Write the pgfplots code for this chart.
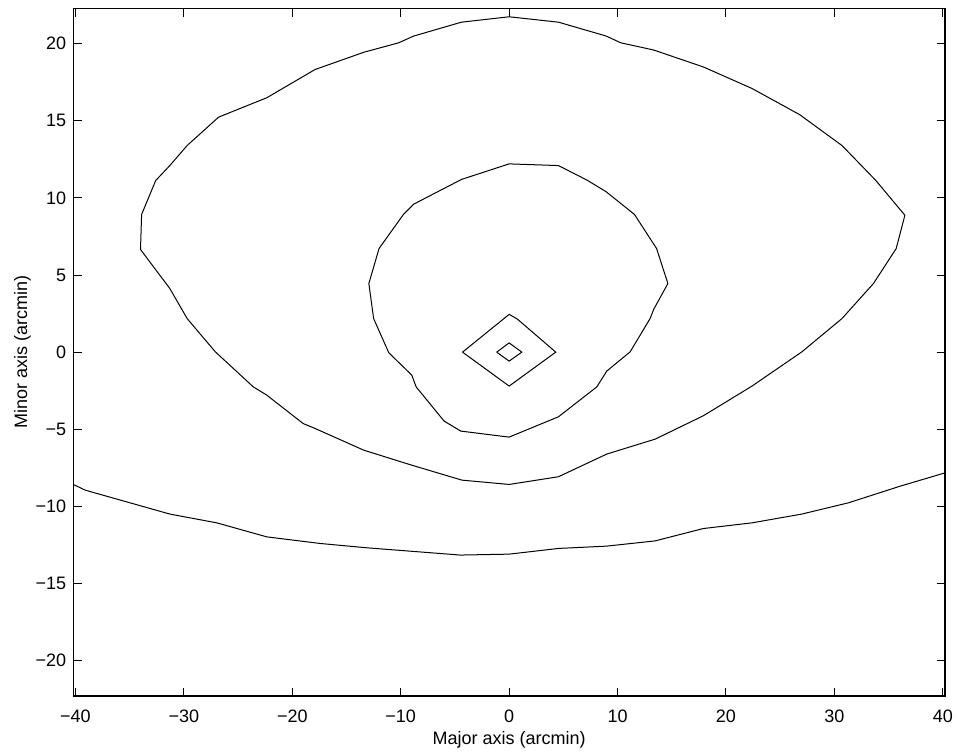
\documentclass[border=0pt]{standalone}
\usepackage{fontspec}
\setmainfont{Liberation Sans}
\usepackage{pgfplots}
\pgfplotsset{compat=1.18}

\begin{document}
\begin{tikzpicture}[contour/.style={black, line width=0.5pt, mark=none}]
\begin{axis}[
  at={(0,0)}, anchor=south west,
  width=435.85pt, height=343.85pt,
  scale only axis,
  xmin=-40.2, xmax=40.2,
  ymin=-22.3, ymax=22.3,
  xtick={-40,-30,-20,-10,0,10,20,30,40},
  xticklabels={−40,−30,−20,−10,0,10,20,30,40},
  ytick={-20,-15,-10,-5,0,5,10,15,20},
  yticklabels={−20,−15,−10,−5,0,5,10,15,20},
  tick align=inside,
  major tick length=4.2pt,
  axis line style={line width=0.6pt},
  every tick/.style={black, line width=0.5pt},
  tick label style={font=\fontsize{9}{10.5}\selectfont},
  xticklabel style={yshift=-3.3pt},
  label style={font=\fontsize{9}{10.5}\selectfont},
  xlabel={Major axis (arcmin)},
  ylabel={Minor axis (arcmin)},
  xlabel style={yshift=2.2pt},
  ylabel style={yshift=-4.5pt},
  clip=true,
]
% outermost closed contour
\addplot[contour] coordinates {
(0,21.75) (4.55,21.4) (8.95,20.5) (10.3,20.06) (13.3,19.6) (17.9,18.5)
(22.4,17.1) (26.8,15.4) (30.7,13.4) (33.8,11.15) (36.5,8.88) (35.7,6.72)
(33.6,4.45) (30.7,2.18) (27.0,0.02) (22.4,-2.2) (17.9,-4.13) (13.47,-5.64)
(9.0,-6.61) (4.55,-8.08) (0,-8.58) (-4.36,-8.30) (-8.98,-7.33) (-13.4,-6.36)
(-17.9,-4.95) (-19.0,-4.63) (-22.35,-2.79) (-23.6,-2.25) (-27.1,0.02)
(-29.7,2.18) (-31.3,4.13) (-34.0,6.66) (-33.9,8.93) (-32.6,11.13)
(-31.3,12.1) (-29.7,13.4) (-26.8,15.24) (-22.35,16.5) (-17.9,18.33)
(-13.4,19.45) (-10.2,20.06) (-8.8,20.5) (-4.4,21.4) (0,21.75)
};
% middle closed contour
\addplot[contour] coordinates {
(0,12.21) (4.55,12.1) (7.2,11.15) (8.95,10.4) (11.56,8.93) (13.6,6.72)
(14.64,4.45) (13.35,2.8) (13.0,2.18) (11.16,0.02) (9.0,-1.23) (8.09,-2.25)
(4.55,-4.19) (0,-5.51) (-4.46,-5.12) (-6.0,-4.47) (-8.58,-2.25)
(-8.98,-1.49) (-11.1,-0.04) (-12.5,2.18) (-12.94,4.45) (-12.0,6.72)
(-9.75,8.93) (-8.8,9.6) (-4.4,11.2) (0,12.21)
};
% inner diamonds
\addplot[contour] coordinates {
(-4.3,0) (0,2.45) (0.75,2.15) (4.3,0) (0,-2.2) (-4.3,0)
};
\addplot[contour] coordinates {
(-1.15,0) (0,0.6) (1.17,0) (0,-0.58) (-1.15,0)
};
% open lower contour
\addplot[contour] coordinates {
(-40.2,-8.58) (-39.1,-8.95) (-31.3,-10.5) (-26.97,-11.07) (-22.35,-11.98)
(-17.4,-12.41) (-13.1,-12.69) (-4.5,-13.16) (0,-13.1) (4.55,-12.73)
(9.0,-12.58) (13.47,-12.24) (17.9,-11.44) (22.4,-11.07) (27.0,-10.5)
(31.3,-9.77) (36.07,-8.69) (40.2,-7.83)
};
\end{axis}
\pgfresetboundingbox
\path[use as bounding box] (-36.65pt,-27.5pt) rectangle (442.85pt,348pt);
\end{tikzpicture}
\end{document}
